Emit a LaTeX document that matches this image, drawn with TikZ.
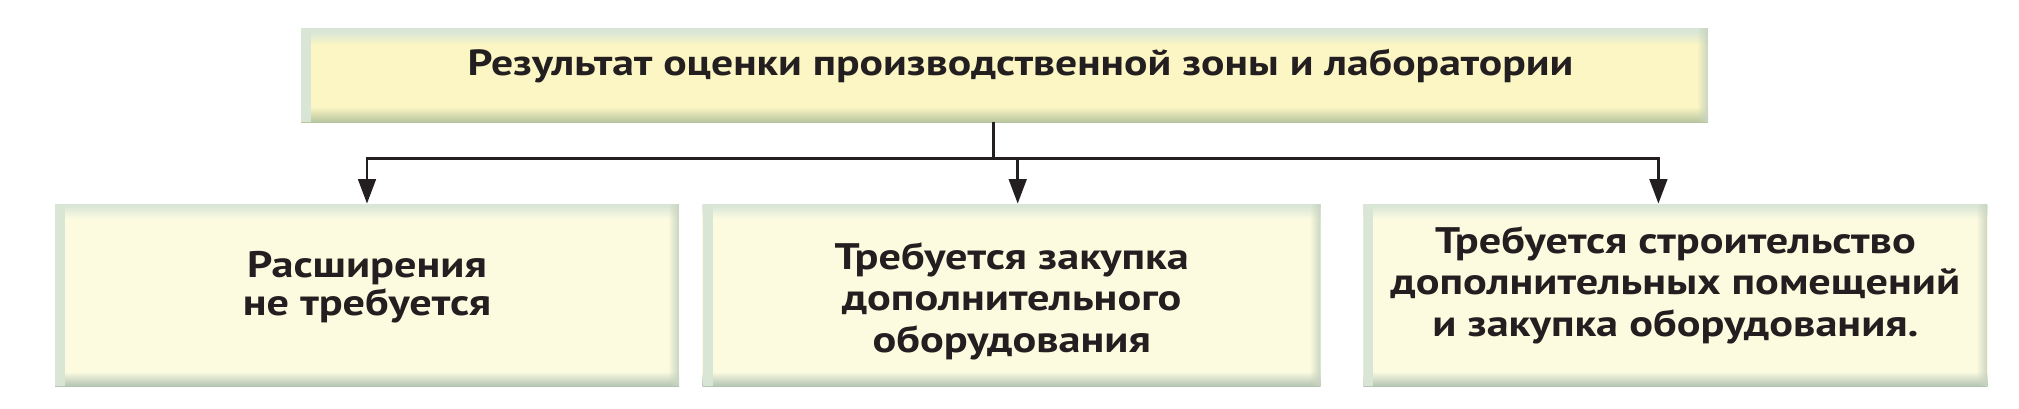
\documentclass[tikz,border=0pt]{standalone}
\usepackage{fontspec}
\setmainfont{PT Sans}[FakeStretch=1.2]
\usetikzlibrary{positioning,arrows.meta,fadings}

\definecolor{cream}{HTML}{FCFBE0}
\definecolor{lemon}{HTML}{FBF6C3}
\definecolor{bevdark}{HTML}{B3C4B3}
\definecolor{bevolive}{HTML}{B7C59F}
\definecolor{bevlight}{HTML}{D9E6D6}
\definecolor{inkc}{HTML}{231F20}

\pgfdeclareverticalshading{bevcream}{100bp}{color(0bp)=(bevdark); color(25bp)=(bevdark); color(29bp)=(cream); color(71bp)=(cream); color(74.5bp)=(bevlight); color(100bp)=(bevlight)}
\pgfdeclareverticalshading{bevlemon}{100bp}{color(0bp)=(bevolive); color(25bp)=(bevolive); color(33bp)=(lemon); color(66bp)=(lemon); color(73bp)=(bevlight); color(100bp)=(bevlight)}

\begin{document}
\begin{tikzpicture}[
    >={Triangle[width=10pt,length=14pt]},
    link/.style={line width=1.7pt,draw=inkc},
    edges/.style={path picture={
        \fill[bevlight,path fading=east] (path picture bounding box.south west) rectangle ([xshift=0.2cm]path picture bounding box.north west);
        \fill[bevdark!70!cream,path fading=west] (path picture bounding box.south east) rectangle ([xshift=-0.22cm]path picture bounding box.north east);}},
    box/.style={rectangle,shading=bevcream,edges,text=inkc,font=\bfseries\fontsize{21}{23.5}\selectfont,align=center,minimum height=3.64cm,inner sep=0pt,text depth=0.5cm},
    head/.style={rectangle,shading=bevlemon,edges,text=inkc,font=\bfseries\fontsize{20.7}{22}\selectfont,minimum width=28.14cm,minimum height=1.88cm,inner sep=0pt,text height=0.5cm,text depth=0.5cm}]
    \useasboundingbox (0,0) rectangle (40.38,-8.16);

    \node[head] (zone) at (20.09,-1.50) {\hspace*{0.64cm}Результат оценки производственной зоны и лаборатории};
    \node[box,minimum width=12.48cm,text height=1.30cm,font=\bfseries\fontsize{21}{21.5}\selectfont] (none) at (7.34,-5.90) {Расширения\\не требуется};
    \node[box,minimum width=12.36cm,text height=2.78cm,right=0.46cm of none] (equip) {Требуется закупка\\дополнительного\\оборудования};
    \node[box,minimum width=12.48cm,text height=2.14cm,right=0.84cm of equip] (build) {Требуется строительство\\дополнительных помещений\\и закупка оборудования.};

    \coordinate (hub) at (19.86,-3.16);
    \draw[link] (zone.south -| hub) -- (hub);
    \draw[link,->] (hub) -| (none.north);
    \draw[link,->] (hub) -| ([xshift=0.12cm]equip.north);
    \draw[link,->] (hub) -| ([xshift=-0.34cm]build.north);
\end{tikzpicture}
\end{document}
